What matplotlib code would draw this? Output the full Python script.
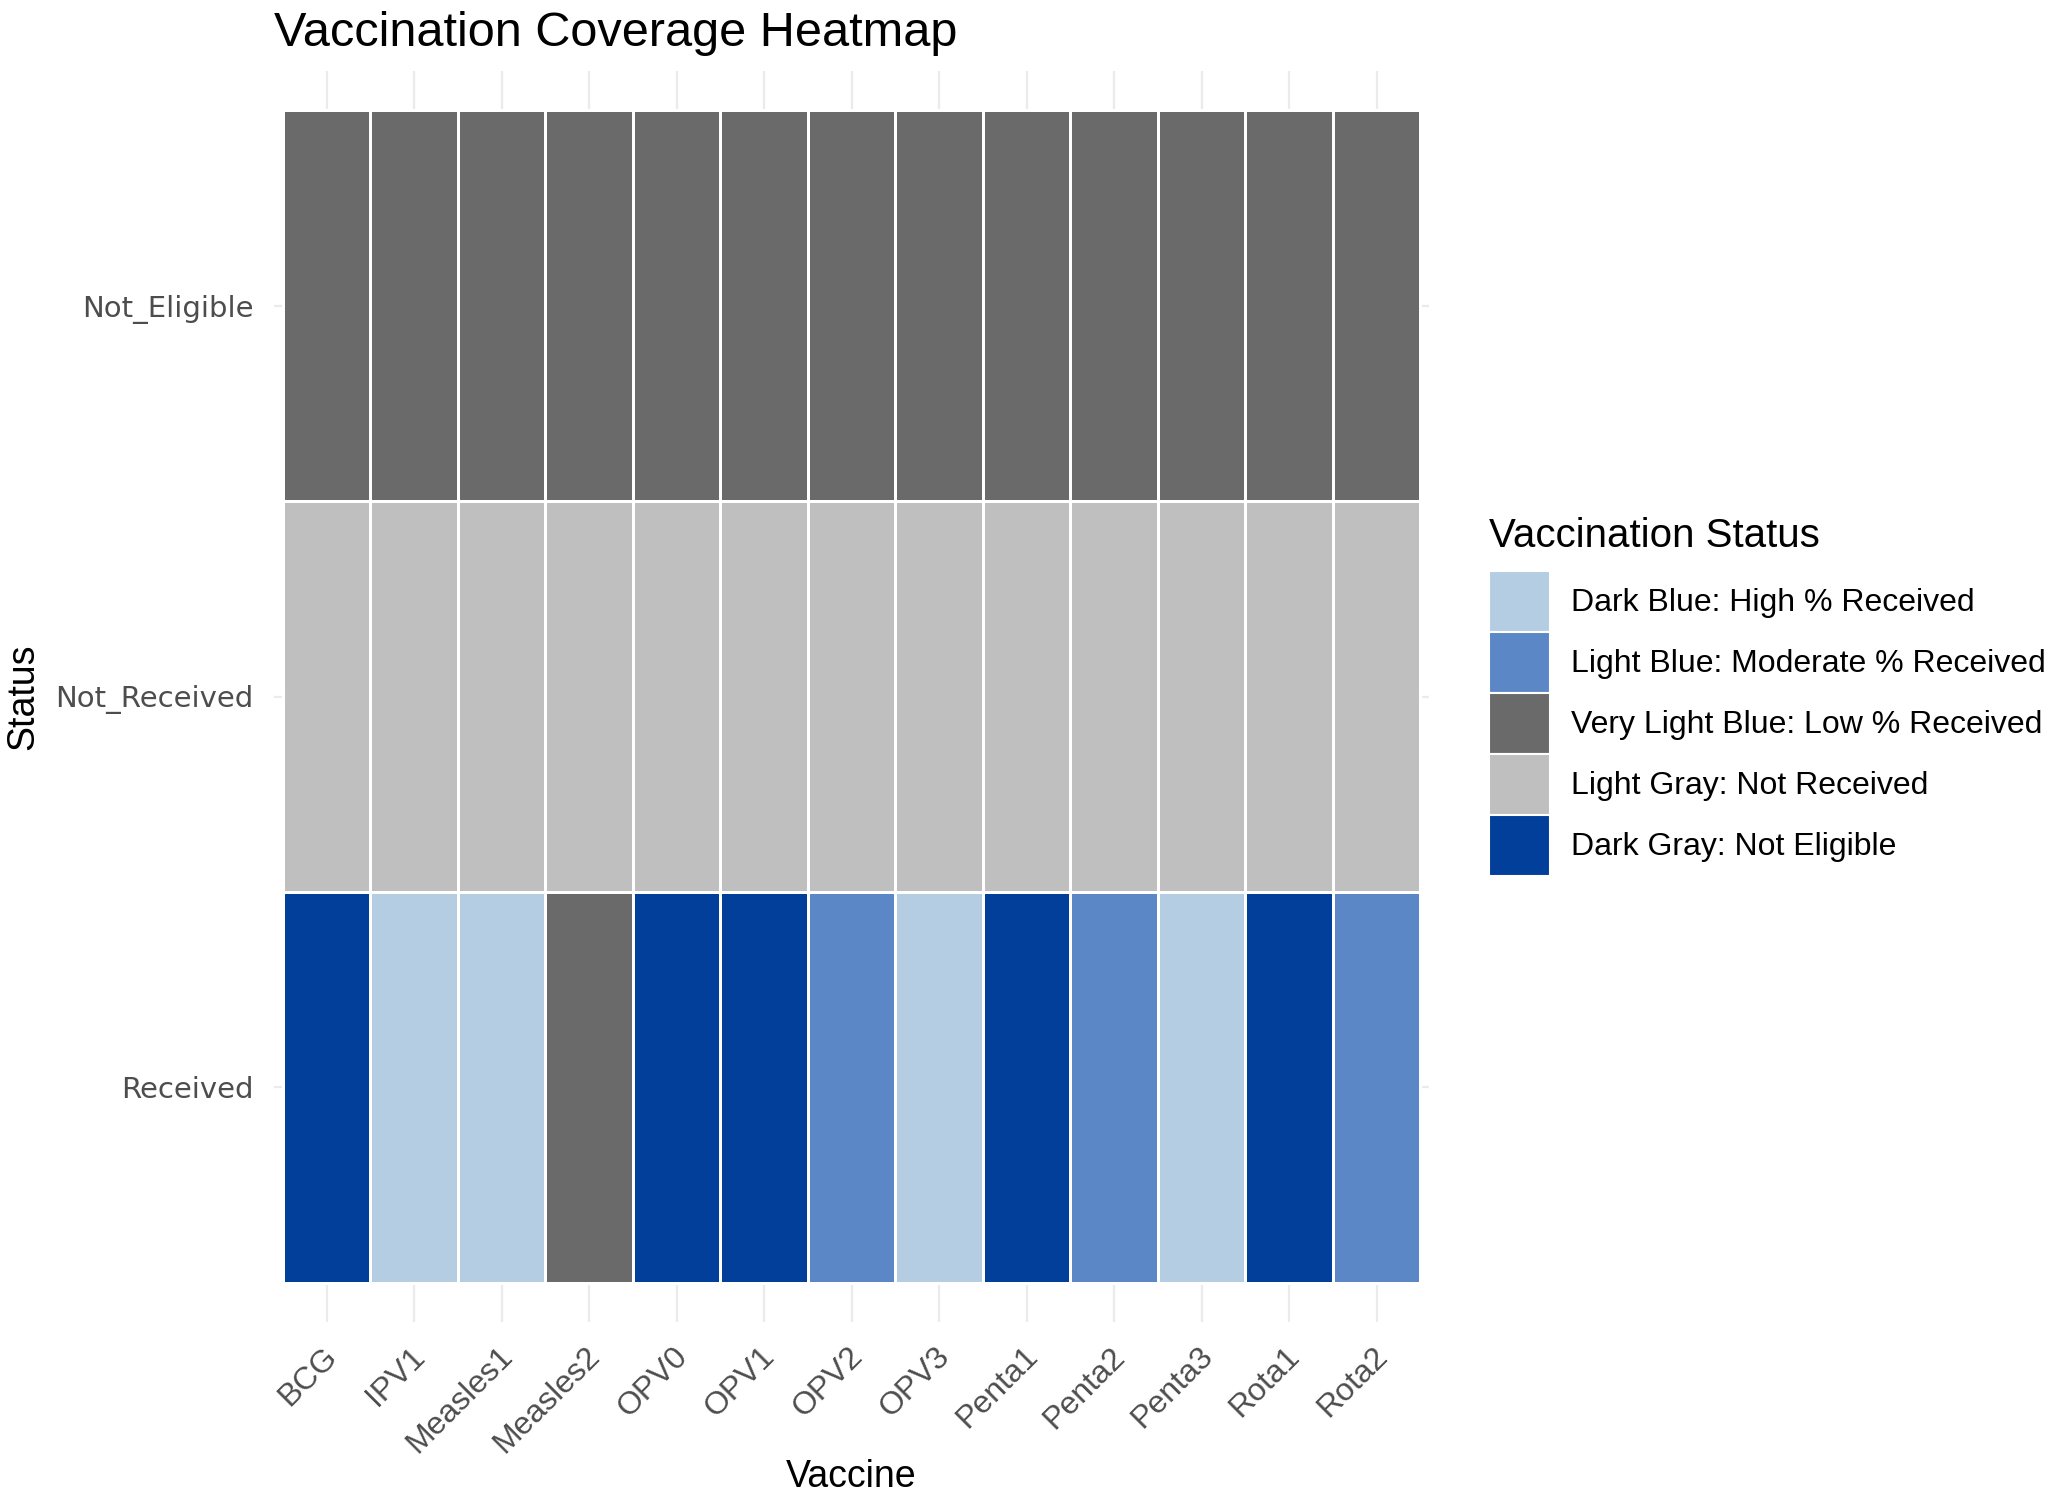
import matplotlib
matplotlib.use("Agg")
import matplotlib.pyplot as plt
from matplotlib.colors import ListedColormap, BoundaryNorm
from matplotlib.patches import Patch
from matplotlib.transforms import ScaledTranslation
import numpy as np

# data
vaccines = ["BCG", "IPV1", "Measles1", "Measles2", "OPV0", "OPV1", "OPV2",
            "OPV3", "Penta1", "Penta2", "Penta3", "Rota1", "Rota2"]
statuses = ["Received", "Not_Received", "Not_Eligible"]

legend_labels = ["Dark Blue: High % Received",
                 "Light Blue: Moderate % Received",
                 "Very Light Blue: Low % Received",
                 "Light Gray: Not Received",
                 "Dark Gray: Not Eligible"]
legend_colors = ["#b4cde3", "#5b87c7", "#6a6a6a", "#bfbfbf", "#013f9b"]

# category index (into legend_labels) for each cell, one list per status row
received = [4, 0, 0, 2, 4, 4, 1, 0, 4, 1, 0, 4, 1]
not_received = [3] * 13
not_eligible = [2] * 13

codes = np.array([received, not_received, not_eligible])

W, H = 2050, 1493
fig = plt.figure(figsize=(W / 100, H / 100), dpi=100)
ax = fig.add_axes([274 / W, 1 - 1322 / H, 1155 / W, 1251 / H])

cmap = ListedColormap(legend_colors)
norm = BoundaryNorm(np.arange(len(legend_colors) + 1) - 0.5, cmap.N)
ax.pcolormesh(np.arange(len(vaccines) + 1) - 0.5,
              np.arange(len(statuses) + 1) - 0.5,
              codes, cmap=cmap, norm=norm,
              edgecolors="white", linewidth=1.0, zorder=2)

ax.set_xlim(-0.6, len(vaccines) - 0.4)
ax.set_ylim(-0.6, len(statuses) - 0.4)

ax.set_xticks(np.arange(len(vaccines)))
ax.set_xticklabels(vaccines, rotation=45, ha="right", va="top",
                   rotation_mode="anchor", fontsize=23, color="#4d4d4d",
                   family="Liberation Sans")
ax.set_yticks(np.arange(len(statuses)))
ax.set_yticklabels(statuses, fontsize=21, color="#4d4d4d", family="DejaVu Sans")
ax.tick_params(axis="x", length=0, pad=14)
ax.tick_params(axis="y", length=0, pad=15)
shift = ScaledTranslation(-4 / 100, 0, fig.dpi_scale_trans)
for lab in ax.get_xticklabels():
    lab.set_transform(lab.get_transform() + shift)

ax.grid(True, color="#ebebeb", linewidth=1.6, zorder=0)
ax.set_axisbelow(True)
for s in ax.spines.values():
    s.set_visible(False)

fig.text(274 / W, 1 - 46 / H, "Vaccination Coverage Heatmap",
         fontsize=35, family="Liberation Sans", va="baseline", ha="left")
fig.text(851 / W, 1 - 1477 / H, "Vaccine", fontsize=27,
         family="Liberation Sans", ha="center", va="center")
fig.text(23 / W, 1 - 697 / H, "Status", fontsize=27, rotation=90,
         family="Liberation Sans", ha="center", va="center")

# legend
fig.text(1489 / W, 1 - 536 / H, "Vaccination Status", fontsize=29,
         family="Liberation Sans", ha="left", va="center")
handles = [Patch(facecolor=c, edgecolor="white", linewidth=1.5)
           for c in legend_colors]
leg = fig.legend(handles, legend_labels, loc="upper left",
                 bbox_to_anchor=(1489 / W, 1 - 571 / H),
                 frameon=False, borderpad=0, borderaxespad=0, labelspacing=0,
                 handlelength=1.91, handleheight=2.56, handletextpad=0.66,
                 prop={"family": "Liberation Sans", "size": 23})

fig.savefig("out.png", dpi=100, facecolor="white")
